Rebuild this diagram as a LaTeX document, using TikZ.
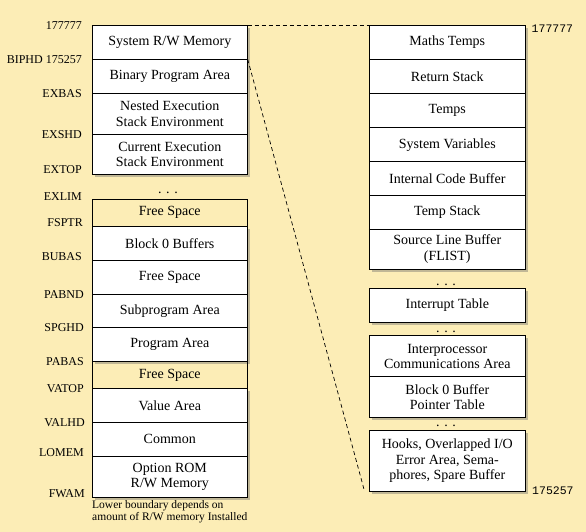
\documentclass[tikz,border=0pt]{standalone}
\usepackage{fontspec}
\setmainfont{Liberation Serif}
\newfontfamily\numfont{Liberation Mono}
\usetikzlibrary{shadows}
\definecolor{bgcol}{HTML}{FCEDB6}
\newcommand\boxfont{\fontsize{14}{15.2}\selectfont}
\newcommand\lblfont{\fontsize{12}{13}\selectfont}
\newcommand\notefont{\fontsize{11.5}{12.3}\selectfont}
\begin{document}
\begin{tikzpicture}[x=1pt,y=-1pt,
  cell/.style={draw=black, line width=0.8pt, fill=white, minimum width=155pt, inner sep=1pt,
    align=center, font=\boxfont,
    drop shadow={shadow xshift=2.5pt, shadow yshift=-2.5pt, opacity=0.4, fill=black!60}},
  freecell/.style={draw=black, line width=0.8pt, minimum width=155pt, inner sep=1pt,
    align=center, font=\boxfont},
  lbl/.style={anchor=east, font=\lblfont, inner sep=0pt},
  addr/.style={anchor=west, font=\numfont\fontsize{11.5}{13}\selectfont, inner sep=0pt},
  dotsnode/.style={anchor=base, font=\boxfont, inner sep=0pt},
  link/.style={dash pattern=on 4pt off 3pt, line width=0.7pt}]
\fill[bgcol] (0,0) rectangle (586,532);
\useasboundingbox (0,0) rectangle (586,532);

% ---------- left column ----------
\node[cell, minimum height=34.4pt] (lsys) at (169.8,42.5) {System R/W Memory};
\node[cell, minimum height=33.6pt] (lbin) at (169.8,76.5) {Binary Program Area};
\node[cell, minimum height=41pt] (lnest) at (169.8,113.8) {Nested Execution\\Stack Environment};
\node[cell, minimum height=39.7pt] (lcur) at (169.8,154.15) {Current Execution\\Stack Environment};
\node[dotsnode] (ldots) at (168,193.5) {. . .};
\node[freecell, minimum height=27pt] (lfree1) at (169.8,212.8) {Free Space};
\node[cell, minimum height=34pt] (lblk) at (169.8,243.3) {Block 0 Buffers};
\node[cell, minimum height=34pt] (lfree2) at (169.8,277.3) {Free Space};
\node[cell, minimum height=33pt] (lsub) at (169.8,310.8) {Subprogram Area};
\node[cell, minimum height=34pt] (lprog) at (169.8,344.3) {Program Area};
\node[freecell, minimum height=27.4pt] (lfree3) at (169.8,375) {Free Space};
\node[cell, minimum height=33.6pt] (lval) at (169.8,405.5) {Value Area};
\node[cell, minimum height=34pt] (lcom) at (169.8,439.3) {Common};
\node[cell, minimum height=40.7pt] (lopt) at (169.8,476.65) {Option ROM\\R/W Memory};

% left labels
\node[lbl] (a1) at (82,25.5) {177777};
\node[lbl] (a2) at (82,60) {BIPHD 175257};
\node[lbl] (a3) at (82,94) {EXBAS};
\node[lbl] (a4) at (82,135) {EXSHD};
\node[lbl] (a5) at (82,170) {EXTOP};
\node[lbl] (a6) at (82,197) {EXLIM};
\node[lbl] (a7) at (83,223) {FSPTR};
\node[lbl] (a8) at (82,257) {BUBAS};
\node[lbl] (a9) at (84,295) {PABND};
\node[lbl] (a10) at (84,328) {SPGHD};
\node[lbl] (a11) at (84,362) {PABAS};
\node[lbl] (a12) at (84,389) {VATOP};
\node[lbl] (a13) at (85,423) {VALHD};
\node[lbl] (a14) at (84,453) {LOMEM};
\node[lbl] (a15) at (85,494) {FWAM};

\node[anchor=north west, align=left, font=\notefont, inner sep=0pt] (note) at (92,500.5)
  {Lower boundary depends on\\amount of R/W memory Installed};

% ---------- right column ----------
\begin{scope}[cell/.append style={minimum width=156pt}]
\node[cell, minimum height=34.4pt] (rmath) at (447.3,42.5) {Maths Temps};
\node[cell, minimum height=34pt] (rret) at (447.3,76.7) {Return Stack};
\node[cell, minimum height=34pt] (rtemps) at (447.3,110.7) {Temps};
\node[cell, minimum height=34pt] (rsys) at (447.3,144.7) {System Variables};
\node[cell, minimum height=34pt] (rint) at (447.3,178.7) {Internal Code Buffer};
\node[cell, minimum height=33.3pt] (rtstk) at (447.3,212.35) {Temp Stack};
\node[cell, minimum height=40.3pt] (rsrc) at (447.3,249.15) {Source Line Buffer\\(FLIST)};
\node[dotsnode] (rdots1) at (446,285) {. . .};
\node[cell, minimum height=33.6pt] (rirq) at (447.3,305.5) {Interrupt Table};
\node[dotsnode] (rdots2) at (446,332.5) {. . .};
\node[cell, minimum height=41pt] (ripc) at (447.3,356.2) {Interprocessor\\Communications Area};
\node[cell, minimum height=40.6pt] (rb0p) at (447.3,397) {Block 0 Buffer\\Pointer Table};
\node[dotsnode] (rdots3) at (446,426.5) {. . .};
\node[cell, minimum height=60.7pt] (rhook) at (447.3,460.65) {Hooks, Overlapped I/O\\Error Area, Sema-\\phores, Spare Buffer};
\end{scope}
\draw[line width=1.6pt] (rtstk.south west) -- (rtstk.south east);

\node[addr] (r1) at (531.5,29) {177777};
\node[addr] (r2) at (532,490.7) {175257};

% ---------- dashed connectors ----------
\coordinate (hookend) at (364,489.3);
\draw[link] (lsys.north east) -- (rmath.north west);
\draw[link] (lbin.north east) -- (hookend);
\end{tikzpicture}
\end{document}
